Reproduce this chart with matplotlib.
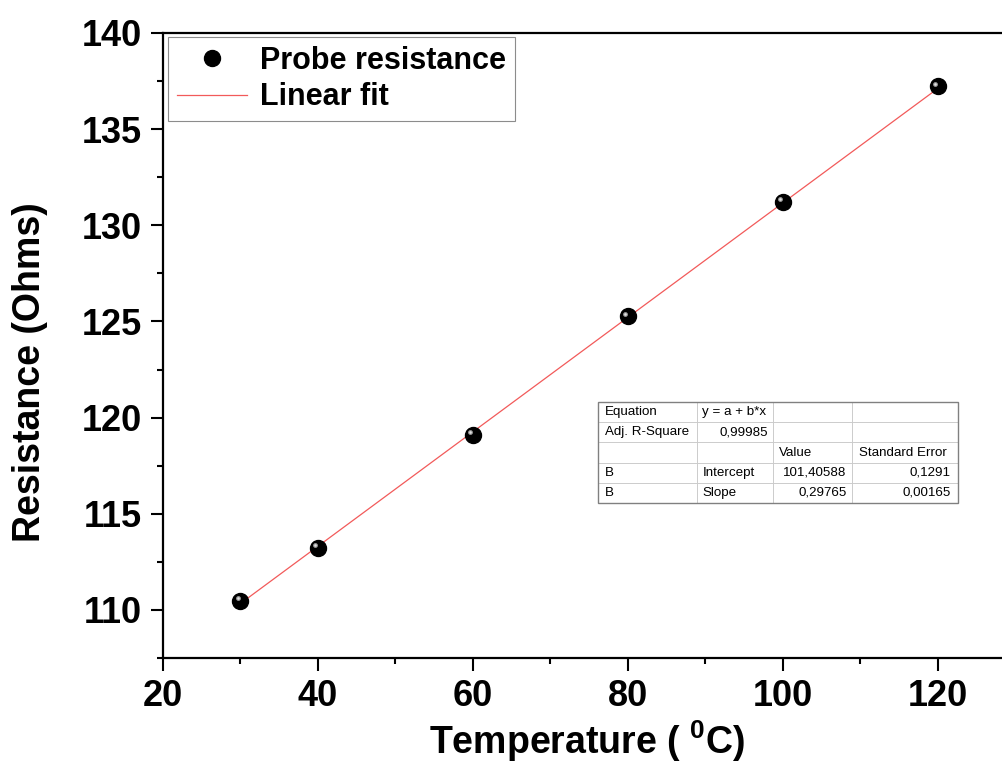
import matplotlib
matplotlib.use("Agg")
import matplotlib.pyplot as plt
import matplotlib.transforms as mtransforms
from matplotlib.ticker import MultipleLocator
import numpy as np

temperature = [30, 40, 60, 80, 100, 120]
resistance = [110.47, 113.23, 119.11, 125.26, 131.22, 137.22]
fit_intercept = 101.40588
fit_slope = 0.29765
table_rows = [
    ["Equation", "y = a + b*x", "", ""],
    ["Adj. R-Square", "0,99985", "", ""],
    ["", "", "Value", "Standard Error"],
    ["B", "Intercept", "101,40588", "0,1291"],
    ["B", "Slope", "0,29765", "0,00165"],
]

plt.rcParams['font.family'] = ['Liberation Sans', 'DejaVu Sans']
plt.rcParams['mathtext.fontset'] = 'custom'
plt.rcParams['mathtext.rm'] = 'Liberation Sans:bold'
plt.rcParams['mathtext.bf'] = 'Liberation Sans:bold'

W, H = 1003, 765
fig = plt.figure(figsize=(W / 100, H / 100), dpi=100)
left = 163 / W
right_px = 163 + 110 * 7.75
bottom = 1 - 658 / H
top = 1 - 33 / H
ax = fig.add_axes([left, bottom, (right_px - 163) / W, top - bottom])

ax.set_xlim(20, 130)
ax.set_ylim(107.5, 140)

xf = np.array([temperature[0], temperature[-1]])
ax.plot(xf, fit_intercept + fit_slope * xf, color='#f25a5a', lw=0.9, zorder=2,
        label='Linear fit')
ax.plot(temperature, resistance, 'o', color='black', ms=11.5, zorder=3,
        label='Probe resistance', linestyle='none')
hl = mtransforms.offset_copy(ax.transData, fig=fig, x=-2.5, y=2.5, units='dots')
ax.plot(temperature, resistance, 'o', color='#9a9a9a', ms=3.5, mew=0,
        transform=hl, zorder=4)
hl2 = mtransforms.offset_copy(ax.transData, fig=fig, x=-2.8, y=2.8, units='dots')
ax.plot(temperature, resistance, 'o', color='#e0e0e0', ms=1.8, mew=0,
        transform=hl2, zorder=5)

ax.xaxis.set_major_locator(MultipleLocator(20))
ax.xaxis.set_minor_locator(MultipleLocator(10))
ax.yaxis.set_major_locator(MultipleLocator(5))
ax.yaxis.set_minor_locator(MultipleLocator(2.5))
ax.tick_params(which='major', direction='out', length=9, width=1.5,
               labelsize=26)
ax.tick_params(axis='x', which='major', pad=6)
ax.tick_params(axis='y', which='major', pad=6)
ax.tick_params(which='minor', direction='out', length=4.5, width=1.5)
for lab in ax.get_xticklabels() + ax.get_yticklabels():
    lab.set_fontweight('bold')
for s in ax.spines.values():
    s.set_linewidth(1.6)
ax.spines['right'].set_visible(False)

ax.set_xlabel(r'Temperature ( $^{0}$C)', fontsize=27, fontweight='bold',
              labelpad=0)
ax.set_ylabel('Resistance (Ohms)', fontsize=27, fontweight='bold', labelpad=10)
ax.xaxis.set_label_coords((587 - 163) / (right_px - 163), (658 - 741) / 625,
                          transform=ax.transAxes)
ax.xaxis.label.set_va('center')
ax.yaxis.set_label_coords((30 - 163) / (right_px - 163), (658 - 372) / 625,
                          transform=ax.transAxes)
ax.yaxis.label.set_va('center')

h, l = ax.get_legend_handles_labels()
leg = ax.legend(h[::-1], l[::-1], loc='upper left',
                bbox_to_anchor=(5 / (right_px - 163), 1 - 4 / 625),
                prop={'size': 22, 'weight': 'bold'}, frameon=True, fancybox=False,
                edgecolor='#707070', borderpad=0.3, handlelength=2.3,
                labelspacing=0.2, handletextpad=0.4, borderaxespad=0)
leg.get_frame().set_linewidth(0.8)

ax_w = right_px - 163
ax_h = 625
tb = ax.table(cellText=table_rows, cellLoc='left',
              colWidths=[99, 76, 79, 106],
              bbox=[(598 - 163) / ax_w, (658 - 503) / ax_h,
                    (958 - 598) / ax_w, 101 / ax_h])
tb.auto_set_font_size(False)
tb.set_fontsize(9.6)
right_cells = {(1, 1), (3, 2), (3, 3), (4, 2), (4, 3)}
for (r, c), cell in tb.get_celld().items():
    cell.set_edgecolor('#c8c8c8')
    cell.set_linewidth(0.6)
    cell.PAD = 0.07
    if (r, c) in right_cells:
        cell.get_text().set_ha('right')
        cell._loc = 'right'
tb.set_zorder(6)
ax.add_patch(plt.Rectangle(((598 - 163) / ax_w * 110 + 20, 107.5 + (658 - 503) / ax_h * 32.5),
                           (958 - 598) / ax_w * 110, 101 / ax_h * 32.5,
                           fill=False, edgecolor='#808080', lw=1.0, zorder=7))

fig.savefig('out.png', dpi=100)
